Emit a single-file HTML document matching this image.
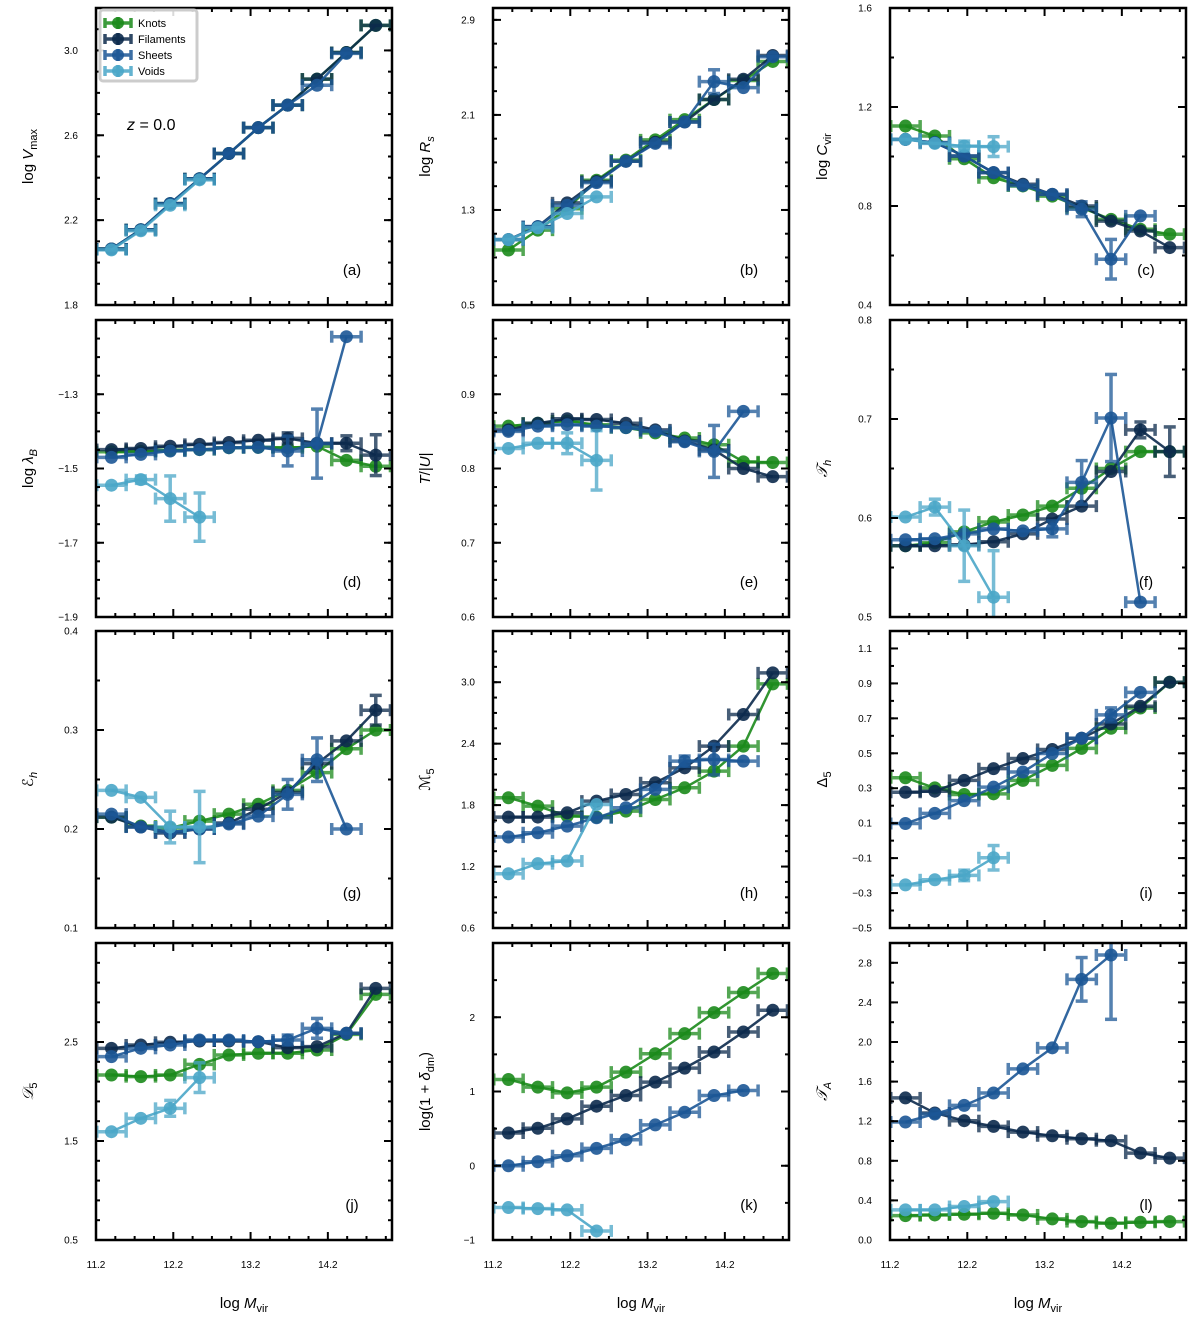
<!DOCTYPE html>
<html><head><meta charset="utf-8">
<style>
html,body{margin:0;padding:0;background:#fff;}
svg{display:block;font-family:"Liberation Sans","DejaVu Sans",sans-serif;}
</style></head>
<body>
<svg id="fig" width="1200" height="1320" viewBox="0 0 1200 1320" xmlns="http://www.w3.org/2000/svg"></svg>
<script>
// ---- shared categories (log M_vir bin centres) ----
const massBins = [11.40, 11.78, 12.16, 12.54, 12.92, 13.30, 13.68, 14.06, 14.44, 14.82];
const xTickLabels = ["11.2", "12.2", "13.2", "14.2"];
const seriesNames = ["Knots", "Filaments", "Sheets", "Voids"];

// (a) log Vmax
const aKnots = [2.064, 2.155, 2.278, 2.395, 2.514, 2.636, 2.742, 2.865, 2.99, 3.118];
const aFil = [2.064, 2.155, 2.278, 2.395, 2.514, 2.636, 2.742, 2.865, 2.99, 3.118];
const aSheets = [2.064, 2.155, 2.278, 2.395, 2.514, 2.636, 2.742, 2.836, 2.986];
const aVoids = [2.06, 2.15, 2.27, 2.39];
const aTicks = ["1.8", "2.2", "2.6", "3.0"];
// (b) log Rs
const bKnots = [0.963, 1.13, 1.31, 1.55, 1.72, 1.89, 2.06, 2.23, 2.39, 2.55];
const bFil = [1.05, 1.16, 1.36, 1.54, 1.71, 1.87, 2.04, 2.23, 2.40, 2.60];
const bSheets = [1.05, 1.16, 1.34, 1.53, 1.71, 1.86, 2.04, 2.38, 2.33, 2.59];
const bSheetsErr = [0, 0, 0, 0, 0, 0, 0, 0.1, 0, 0];
const bVoids = [1.05, 1.15, 1.27, 1.41];
const bTicks = ["0.5", "1.3", "2.1", "2.9"];
// (c) log Cvir
const cKnots = [1.123, 1.083, 0.991, 0.914, 0.881, 0.840, 0.793, 0.746, 0.706, 0.686];
const cFil = [1.069, 1.056, 1.002, 0.935, 0.888, 0.847, 0.80, 0.739, 0.699, 0.632];
const cSheets = [1.069, 1.056, 1.002, 0.935, 0.883, 0.847, 0.787, 0.585, 0.76];
const cSheetsErr = [0, 0, 0, 0, 0, 0, 0.03, 0.08, 0, 0];
const cVoids = [1.069, 1.053, 1.042, 1.04];
const cVoidsErr = [0, 0, 0.02, 0.04];
const cTicks = ["0.4", "0.8", "1.2", "1.6"];
// (d) log lambda_B
const dKnots = [-1.455, -1.454, -1.451, -1.449, -1.444, -1.443, -1.444, -1.44, -1.478, -1.494];
const dFil = [-1.449, -1.446, -1.44, -1.435, -1.43, -1.424, -1.419, -1.432, -1.432, -1.464];
const dFilErr = [0, 0, 0, 0, 0, 0, 0.015, 0, 0.02, 0.055];
const dSheets = [-1.47, -1.462, -1.453, -1.449, -1.444, -1.443, -1.453, -1.433, -1.145];
const dSheetsErr = [0, 0, 0, 0, 0, 0, 0.04, 0.093, 0];
const dVoids = [-1.545, -1.53, -1.581, -1.631];
const dVoidsErr = [0, 0.01, 0.061, 0.065];
const dTicks = ["−1.9", "−1.7", "−1.5", "−1.3"];
// (e) T/|U|
const eKnots = [0.857, 0.861, 0.864, 0.859, 0.855, 0.848, 0.841, 0.832, 0.809, 0.808];
const eFil = [0.852, 0.861, 0.867, 0.866, 0.861, 0.852, 0.837, 0.825, 0.800, 0.789];
const eSheets = [0.85, 0.857, 0.859, 0.857, 0.855, 0.85, 0.836, 0.823, 0.877];
const eSheetsErr = [0, 0, 0, 0, 0, 0, 0, 0.035, 0];
const eVoids = [0.827, 0.834, 0.834, 0.811];
const eVoidsErr = [0, 0, 0.014, 0.04];
const eTicks = ["0.6", "0.7", "0.8", "0.9"];
// (f) T_h
const fKnots = [0.572, 0.575, 0.586, 0.596, 0.603, 0.612, 0.630, 0.650, 0.667, 0.667];
const fFil = [0.572, 0.572, 0.573, 0.576, 0.584, 0.599, 0.612, 0.647, 0.689, 0.667];
const fFilErr = [0, 0, 0, 0, 0, 0, 0, 0, 0.008, 0.025];
const fSheets = [0.578, 0.579, 0.584, 0.589, 0.587, 0.589, 0.636, 0.701, 0.515];
const fSheetsErr = [0, 0, 0, 0, 0, 0.008, 0.022, 0.044, 0];
const fVoids = [0.601, 0.611, 0.572, 0.520];
const fVoidsErr = [0, 0.008, 0.036, 0.047];
const fTicks = ["0.5", "0.6", "0.7", "0.8"];
// (g) E_h
const gKnots = [0.212, 0.203, 0.201, 0.208, 0.215, 0.225, 0.239, 0.257, 0.281, 0.300];
const gFil = [0.212, 0.202, 0.196, 0.200, 0.206, 0.220, 0.237, 0.266, 0.289, 0.320];
const gFilErr = [0, 0, 0, 0, 0, 0, 0, 0, 0, 0.015];
const gSheets = [0.215, 0.202, 0.197, 0.2, 0.205, 0.213, 0.235, 0.270, 0.2];
const gSheetsErr = [0, 0, 0, 0, 0, 0, 0.015, 0.022, 0];
const gVoids = [0.239, 0.232, 0.202, 0.202];
const gVoidsErr = [0, 0, 0.016, 0.036];
const gTicks = ["0.1", "0.2", "0.3", "0.4"];
// (h) M_5
const hKnots = [1.872, 1.79, 1.693, 1.683, 1.741, 1.855, 1.969, 2.132, 2.376, 2.984];
const hFil = [1.683, 1.683, 1.725, 1.839, 1.904, 2.018, 2.164, 2.376, 2.685, 3.091];
const hSheets = [1.488, 1.53, 1.595, 1.676, 1.774, 1.953, 2.229, 2.245, 2.229];
const hSheetsErr = [0, 0, 0, 0, 0, 0, 0.05, 0.15, 0];
const hVoids = [1.13, 1.228, 1.254, 1.806];
const hTicks = ["0.6", "1.2", "1.8", "2.4", "3.0"];
// (i) Delta_5
const iKnots = [0.360, 0.302, 0.264, 0.268, 0.345, 0.431, 0.528, 0.643, 0.759, 0.907];
const iFil = [0.277, 0.283, 0.345, 0.412, 0.470, 0.522, 0.586, 0.668, 0.769, 0.907];
const iSheets = [0.098, 0.156, 0.229, 0.306, 0.393, 0.499, 0.586, 0.720, 0.849];
const iSheetsErr = [0, 0, 0, 0, 0, 0, 0, 0.04, 0];
const iVoids = [-0.253, -0.224, -0.199, -0.098];
const iVoidsErr = [0, 0, 0.03, 0.07];
const iTicks = ["−0.5", "−0.3", "−0.1", "0.1", "0.3", "0.5", "0.7", "0.9", "1.1"];
// (j) D_5
const jKnots = [2.167, 2.150, 2.167, 2.274, 2.369, 2.386, 2.386, 2.419, 2.577, 2.981];
const jFil = [2.436, 2.47, 2.497, 2.51, 2.51, 2.503, 2.443, 2.453, 2.588, 3.042];
const jSheets = [2.352, 2.436, 2.47, 2.52, 2.52, 2.503, 2.52, 2.638, 2.588];
const jSheetsErr = [0, 0, 0, 0, 0, 0, 0.05, 0.1, 0];
const jVoids = [1.594, 1.729, 1.83, 2.14];
const jVoidsErr = [0, 0, 0.08, 0.15];
const jTicks = ["0.5", "1.5", "2.5"];
// (k) log(1+delta_dm)
const kKnots = [1.162, 1.059, 0.982, 1.059, 1.261, 1.509, 1.779, 2.063, 2.333, 2.59];
const kFil = [0.441, 0.505, 0.631, 0.802, 0.946, 1.126, 1.315, 1.532, 1.802, 2.095];
const kSheets = [0, 0.054, 0.135, 0.234, 0.351, 0.55, 0.721, 0.946, 1.014];
const kVoids = [-0.563, -0.577, -0.595, -0.878];
const kTicks = ["−1", "0", "1", "2"];
// (l) T_A
const lKnots = [0.246, 0.253, 0.26, 0.27, 0.253, 0.213, 0.186, 0.169, 0.179, 0.186];
const lFil = [1.435, 1.283, 1.205, 1.148, 1.09, 1.053, 1.023, 1.003, 0.878, 0.827];
const lSheets = [1.192, 1.273, 1.36, 1.485, 1.728, 1.941, 2.633, 2.879];
const lSheetsErr = [0, 0, 0, 0, 0, 0, 0.22, 0.65];
const lVoids = [0.304, 0.304, 0.338, 0.388];
const lTicks = ["0.0", "0.4", "0.8", "1.2", "1.6", "2.0", "2.4", "2.8"];

// ---- layout (not data) ----
const NS = "http://www.w3.org/2000/svg";
const svg = document.getElementById("fig");
const colLeft = [96, 493, 890];
const rowTop = [8, 320, 631, 943];
const PW = 296, PH = 297;
const XMIN = 11.2, XMAX = 15.03;
const COLORS = ["#1b8a1b", "#0c2a4c", "#1c5796", "#4aa6c8"];

function el(tag, attrs, parent) {
  const e = document.createElementNS(NS, tag);
  for (const k in attrs) e.setAttribute(k, attrs[k]);
  (parent || svg).appendChild(e);
  return e;
}

const panels = [
  {id:"a", r:0, c:0, ymin:1.8, ymax:3.2, t0:1.8, tstep:0.4, minor:0.1, ticks:aTicks, label:'log <tspan font-style="italic">V</tspan><tspan font-size="11" dy="4">max</tspan>', series:[[aKnots],[aFil],[aSheets],[aVoids]]},
  {id:"b", r:0, c:1, ymin:0.5, ymax:3.0, t0:0.5, tstep:0.8, minor:0.2, ticks:bTicks, label:'log <tspan font-style="italic">R</tspan><tspan font-size="11" dy="4" font-style="italic">s</tspan>', series:[[bKnots],[bFil],[bSheets,bSheetsErr],[bVoids]]},
  {id:"c", r:0, c:2, ymin:0.4, ymax:1.6, t0:0.4, tstep:0.4, minor:0.2, ticks:cTicks, label:'log <tspan font-style="italic">C</tspan><tspan font-size="11" dy="4">vir</tspan>', series:[[cKnots],[cFil],[cSheets,cSheetsErr],[cVoids,cVoidsErr]]},
  {id:"d", r:1, c:0, ymin:-1.9, ymax:-1.1, t0:-1.9, tstep:0.2, minor:0.05, ticks:dTicks, label:'log <tspan font-style="italic">λ</tspan><tspan font-size="11" dy="4" font-style="italic">B</tspan>', series:[[dKnots],[dFil,dFilErr],[dSheets,dSheetsErr],[dVoids,dVoidsErr]]},
  {id:"e", r:1, c:1, ymin:0.6, ymax:1.0, t0:0.6, tstep:0.1, minor:0.025, ticks:eTicks, label:'<tspan font-style="italic">T</tspan>/|<tspan font-style="italic">U</tspan>|', series:[[eKnots],[eFil],[eSheets,eSheetsErr],[eVoids,eVoidsErr]]},
  {id:"f", r:1, c:2, ymin:0.5, ymax:0.8, t0:0.5, tstep:0.1, minor:0.05, ticks:fTicks, label:'<tspan font-style="italic">𝒯</tspan><tspan font-size="11" dy="4" font-style="italic">h</tspan>', series:[[fKnots],[fFil,fFilErr],[fSheets,fSheetsErr],[fVoids,fVoidsErr]]},
  {id:"g", r:2, c:0, ymin:0.1, ymax:0.4, t0:0.1, tstep:0.1, minor:0.05, ticks:gTicks, label:'<tspan font-style="italic">ℰ</tspan><tspan font-size="11" dy="4" font-style="italic">h</tspan>', series:[[gKnots],[gFil,gFilErr],[gSheets,gSheetsErr],[gVoids,gVoidsErr]]},
  {id:"h", r:2, c:1, ymin:0.6, ymax:3.5, t0:0.6, tstep:0.6, minor:0.15, ticks:hTicks, label:'<tspan font-style="italic">ℳ</tspan><tspan font-size="11" dy="4">5</tspan>', series:[[hKnots],[hFil],[hSheets,hSheetsErr],[hVoids]]},
  {id:"i", r:2, c:2, ymin:-0.5, ymax:1.2, t0:-0.5, tstep:0.2, minor:0.1, ticks:iTicks, label:'Δ<tspan font-size="11" dy="4">5</tspan>', series:[[iKnots],[iFil],[iSheets,iSheetsErr],[iVoids,iVoidsErr]]},
  {id:"j", r:3, c:0, ymin:0.5, ymax:3.5, t0:0.5, tstep:1.0, minor:0.2, ticks:jTicks, label:'<tspan font-style="italic">𝒟</tspan><tspan font-size="11" dy="4">5</tspan>', series:[[jKnots],[jFil],[jSheets,jSheetsErr],[jVoids,jVoidsErr]]},
  {id:"k", r:3, c:1, ymin:-1, ymax:3, t0:-1, tstep:1, minor:0.5, ticks:kTicks, label:'log(1 + <tspan font-style="italic">δ</tspan><tspan font-size="11" dy="4">dm</tspan><tspan dy="-4">)</tspan>', series:[[kKnots],[kFil],[kSheets],[kVoids]]},
  {id:"l", r:3, c:2, ymin:0, ymax:3, t0:0, tstep:0.4, minor:0.2, ticks:lTicks, label:'<tspan font-style="italic">𝒯</tspan><tspan font-size="11" dy="4" font-style="italic">A</tspan>', series:[[lKnots],[lFil],[lSheets,lSheetsErr],[lVoids]]}
];

panels.forEach(p => {
  const x0 = colLeft[p.c], y0 = rowTop[p.r];
  const xs = v => x0 + (v - XMIN) / (XMAX - XMIN) * PW;
  const ys = v => y0 + PH - (v - p.ymin) / (p.ymax - p.ymin) * PH;
  const g = el("g", {});
  
  
  const clipId = "clip" + p.id;
  const cp = el("clipPath", {id: clipId}, g);
  el("rect", {x: x0, y: y0, width: PW, height: PH}, cp);
  const plot = el("g", {"clip-path": "url(#" + clipId + ")"}, g);
  
  

  p.series.forEach((s, si) => {
    const vals = s[0], errs = s[1] || [];
    const col = COLORS[si];
    const sg = el("g", {}, plot);
    
    
    vals.forEach((v, i) => {
      const cx = xs(massBins[i]), cy = ys(v);
      const xl = xs(massBins[i] - 0.19), xr = xs(massBins[i] + 0.19);
      const eb = el("g", {stroke: col, "stroke-width": 3.5, opacity: 0.75, fill: "none"}, sg);
      
      
      el("line", {x1: xl, y1: cy, x2: xr, y2: cy}, eb);
      el("line", {x1: xl, y1: cy - 6, x2: xl, y2: cy + 6}, eb);
      el("line", {x1: xr, y1: cy - 6, x2: xr, y2: cy + 6}, eb);
      const e = errs[i] || 0;
      if (e > 0) {
        const yt = ys(v + e), yb = ys(v - e);
        el("line", {x1: cx, y1: yt, x2: cx, y2: yb}, eb);
        el("line", {x1: cx - 6, y1: yt, x2: cx + 6, y2: yt}, eb);
        el("line", {x1: cx - 6, y1: yb, x2: cx + 6, y2: yb}, eb);
      }
    });
    const pts = vals.map((v, i) => xs(massBins[i]) + "," + ys(v)).join(" ");
    const ln = el("polyline", {points: pts, fill: "none", stroke: col, "stroke-width": 2.5, opacity: 0.9}, sg);
    
    
    vals.forEach((v, i) => {
      const m = el("circle", {cx: xs(massBins[i]), cy: ys(v), r: 6.5, fill: col, opacity: 0.9}, sg);
      
      
    });
  });

  const fr = el("rect", {x: x0, y: y0, width: PW, height: PH, fill: "none", stroke: "#000", "stroke-width": 2.5}, g);
  
  

  const tk = el("g", {stroke: "#000", "stroke-width": 2}, g);
  
  
  for (let k = 1; k < 16; k++) {
    const v = XMIN + 0.25 * k;
    if (v >= XMAX) break;
    const px = xs(v), len = (k % 4 === 0) ? 8 : 4;
    el("line", {x1: px, y1: y0 + PH, x2: px, y2: y0 + PH - len}, tk);
    el("line", {x1: px, y1: y0, x2: px, y2: y0 + len}, tk);
  }
  const nMin = Math.round((p.ymax - p.ymin) / p.minor);
  for (let k = 1; k < nMin; k++) {
    const py = ys(p.ymin + p.minor * k);
    el("line", {x1: x0, y1: py, x2: x0 + 4, y2: py}, tk);
    el("line", {x1: x0 + PW, y1: py, x2: x0 + PW - 4, y2: py}, tk);
  }
  p.ticks.forEach((lab, k) => {
    const v = p.t0 + p.tstep * k;
    const py = ys(v);
    el("line", {x1: x0, y1: py, x2: x0 + 8, y2: py}, tk);
    el("line", {x1: x0 + PW, y1: py, x2: x0 + PW - 8, y2: py}, tk);
    const t = el("text", {x: x0 - 18, y: py + 3.5, "font-size": 10, "text-anchor": "end", fill: "#000"}, g);
    t.textContent = lab;
    
    
  });
  const yl = el("text", {x: 0, y: 0, "font-size": 15, "text-anchor": "middle", fill: "#000",
    transform: "translate(" + (x0 - 63) + "," + (y0 + PH / 2) + ") rotate(-90)"}, g);
  yl.innerHTML = p.label;
  
  
  const pl = el("text", {x: x0 + PW - 40, y: y0 + PH - 30, "font-size": 15, "text-anchor": "middle", fill: "#000"}, g);
  pl.textContent = "(" + p.id + ")";
  
  

  if (p.r === 3) {
    xTickLabels.forEach((lab) => {
      const t = el("text", {x: xs(parseFloat(lab)), y: 1268, "font-size": 10, "text-anchor": "middle", fill: "#000"}, g);
      t.textContent = lab;
      
      
    });
    const xl = el("text", {x: x0 + PW / 2, y: 1308, "font-size": 15, "text-anchor": "middle", fill: "#000"}, g);
    xl.innerHTML = 'log <tspan font-style="italic">M</tspan><tspan font-size="11" dy="4">vir</tspan>';
    
    
  }
});

const zt = el("text", {x: 127, y: 130, "font-size": 16, fill: "#000"});
zt.innerHTML = '<tspan font-style="italic">z</tspan> = 0.0';



const lg = el("g", {});


el("rect", {x: 100, y: 10, width: 97, height: 71, rx: 3, fill: "#fff", "fill-opacity": 0.85, stroke: "#cccccc", "stroke-width": 3}, lg);
seriesNames.forEach((nm, i) => {
  const yy = 23 + i * 16;
  const col = COLORS[i];
  const en = el("g", {}, lg);
  
  
  const gl = el("g", {stroke: col, "stroke-width": 3.5, opacity: 0.85}, en);
  el("line", {x1: 105, y1: yy, x2: 131, y2: yy}, gl);
  el("line", {x1: 105, y1: yy - 5, x2: 105, y2: yy + 5}, gl);
  el("line", {x1: 131, y1: yy - 5, x2: 131, y2: yy + 5}, gl);
  el("line", {x1: 118, y1: yy - 6, x2: 118, y2: yy + 6}, gl);
  el("circle", {cx: 118, cy: yy, r: 6, fill: col, opacity: 0.9}, en);
  const t = el("text", {x: 138, y: yy + 4, "font-size": 11, fill: "#000"}, en);
  t.textContent = nm;
});
</script>
</body></html>
